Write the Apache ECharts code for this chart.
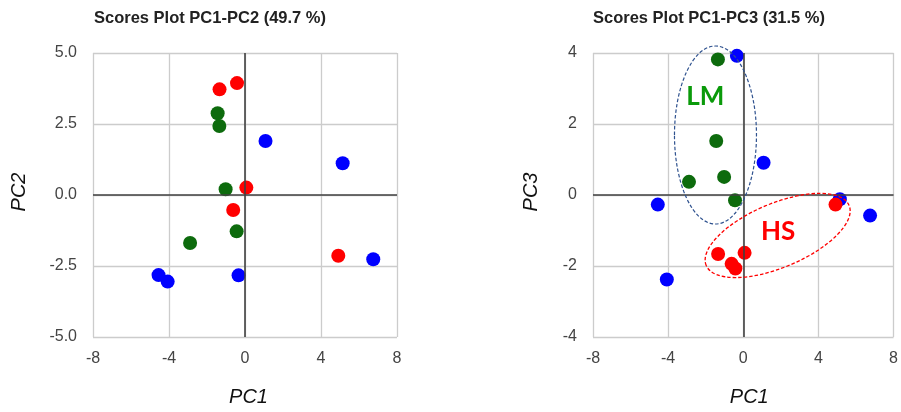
<!DOCTYPE html>
<html>
<head>
<meta charset="utf-8">
<script src="https://cdn.jsdelivr.net/npm/echarts@6/dist/echarts.min.js"></script>
<style>
html,body{margin:0;padding:0;background:#fff;}
#c{width:901px;height:412px;}
</style>
</head>
<body>
<div id="c"></div>
<script>
// ---- data ----
const titles = ['Scores Plot PC1-PC2 (49.7 %)', 'Scores Plot PC1-PC3 (31.5 %)'];
const axisNames = { left: ['PC1', 'PC2'], right: ['PC1', 'PC3'] };

const pc1Blue  = [1.08, 5.14, 6.75, -0.34, -4.55, -4.07];
const pc2Blue  = [1.90, 1.12, -2.26, -2.83, -2.82, -3.05];
const pc3Blue  = [0.91, -0.12, -0.58, 3.92, -0.27, -2.38];

const pc1Green = [-1.44, -1.35, -1.02, -0.44, -2.89];
const pc2Green = [2.88, 2.43, 0.20, -1.28, -1.69];
const pc3Green = [1.52, 3.82, 0.51, -0.15, 0.37];

const pc1Red   = [-1.34, -0.42, 0.07, -0.62, 4.91];
const pc2Red   = [3.72, 3.94, 0.26, -0.53, -2.14];
const pc3Red   = [-1.66, -2.07, -1.63, -1.94, -0.27];

const xTicks = [-8, -4, 0, 4, 8];
const y2Ticks = [-5.0, -2.5, 0.0, 2.5, 5.0];
const y3Ticks = [-4, -2, 0, 2, 4];

// annotation groups on the PC1-PC3 plot (data coordinates of centres)
const lmLabel = { text: 'LM', pc1: -2.02, pc3: 2.77 };
const hsLabel = { text: 'HS', pc1: 1.86, pc3: -1.03 };
const lmEllipseCenter = [-1.48, 1.69];
const hsEllipseCenter = [1.83, -1.14];

// ---- chart ----
const colors = { blue: '#0000ff', green: '#0d6b0d', red: '#ff0000' };
function pairs(xs, ys) { return xs.map((x, i) => [x, ys[i]]); }

const chart = echarts.init(document.getElementById('c'), null, { renderer: 'canvas' });

const tickFont = { fontFamily: 'Liberation Sans, Arial, sans-serif', fontSize: 16, color: '#444' };
const nameFont = { fontFamily: 'Liberation Sans, Arial, sans-serif', fontSize: 20, fontStyle: 'italic', color: '#111' };

function xAxis(gridIndex, name, padLeft) {
  return {
    type: 'value', gridIndex, min: xTicks[0], max: xTicks[xTicks.length - 1], interval: 4,
    name, nameLocation: 'middle', nameGap: 50,
    nameTextStyle: Object.assign({ padding: [0, 0, 0, padLeft] }, nameFont),
    axisLine: { show: false }, axisTick: { show: false },
    axisLabel: Object.assign({ margin: 14 }, tickFont),
    splitLine: { show: true, lineStyle: { color: '#cccccc', width: 1.3 } }
  };
}
function yAxis(gridIndex, name, ticks, interval, fmt, gap) {
  return {
    type: 'value', gridIndex, min: ticks[0], max: ticks[ticks.length - 1], interval,
    name, nameLocation: 'middle', nameGap: gap,
    nameTextStyle: Object.assign({ padding: [0, 0, 0, 6] }, nameFont),
    axisLine: { show: false }, axisTick: { show: false },
    axisLabel: Object.assign({ margin: 16, formatter: fmt }, tickFont),
    splitLine: { show: true, lineStyle: { color: '#cccccc', width: 1.3 } }
  };
}
function zeroLines(xi, yi) {
  return {
    type: 'scatter', xAxisIndex: xi, yAxisIndex: yi, data: [], z: 1, silent: true,
    markLine: {
      silent: true, symbol: 'none', label: { show: false },
      lineStyle: { color: '#404040', width: 1.6, type: 'solid' },
      data: [{ xAxis: 0 }, { yAxis: 0 }], animation: false
    }
  };
}
function dots(xi, yi, data, color) {
  return {
    type: 'scatter', xAxisIndex: xi, yAxisIndex: yi, data, z: 3,
    symbol: 'circle', symbolSize: 14, itemStyle: { color, opacity: 1 }
  };
}

const titleStyle = { fontFamily: 'Liberation Sans, Arial, sans-serif', fontSize: 16.5, fontWeight: 'bold', color: '#222' };
chart.setOption({
  animation: false,
  backgroundColor: '#ffffff',
  title: [
    { text: titles[0], left: 94, top: 10, padding: 0, textStyle: titleStyle },
    { text: titles[1], left: 593, top: 10, padding: 0, textStyle: titleStyle }
  ],
  grid: [
    { left: 93, top: 53, width: 304, height: 284 },
    { left: 593, top: 53, width: 304, height: 284 }
  ],
  xAxis: [ xAxis(0, axisNames.left[0], 7), xAxis(1, axisNames.right[0], 12) ],
  yAxis: [
    yAxis(0, axisNames.left[1], y2Ticks, 2.5, v => v.toFixed(1), 64),
    yAxis(1, axisNames.right[1], y3Ticks, 2, v => String(v), 52)
  ],
  series: [
    zeroLines(0, 0), zeroLines(1, 1),
    dots(0, 0, pairs(pc1Blue, pc2Blue), colors.blue),
    dots(0, 0, pairs(pc1Green, pc2Green), colors.green),
    dots(0, 0, pairs(pc1Red, pc2Red), colors.red),
    dots(1, 1, pairs(pc1Blue, pc3Blue), colors.blue),
    dots(1, 1, pairs(pc1Green, pc3Green), colors.green),
    dots(1, 1, pairs(pc1Red, pc3Red), colors.red)
  ]
});

// annotations placed via the chart's own scale
function px(p) { return chart.convertToPixel({ gridIndex: 1 }, p); }
const lmC = px(lmEllipseCenter), hsC = px(hsEllipseCenter);
const lmT = px([lmLabel.pc1, lmLabel.pc3]), hsT = px([hsLabel.pc1, hsLabel.pc3]);
const annFont = 'Lato, "Open Sans", sans-serif';
chart.setOption({
  graphic: [
    { type: 'ellipse', x: lmC[0], y: lmC[1], z: 10, silent: true,
      shape: { cx: 0, cy: 0, rx: 41, ry: 89 },
      style: { fill: 'none', stroke: '#2f528f', lineWidth: 1.2, lineDash: [3.5, 2] } },
    { type: 'ellipse', x: hsC[0], y: hsC[1], z: 10, silent: true, rotation: 22.8 * Math.PI / 180,
      shape: { cx: 0, cy: 0, rx: 77.5, ry: 32 },
      style: { fill: 'none', stroke: '#ff0000', lineWidth: 1.3, lineDash: [3.5, 2] } },
    { type: 'text', x: lmT[0], y: lmT[1], z: 11, silent: true,
      style: { text: lmLabel.text, fill: '#0a9a0a', font: 'bold 26px ' + annFont, align: 'center', verticalAlign: 'middle' } },
    { type: 'text', x: hsT[0], y: hsT[1], z: 11, silent: true,
      style: { text: hsLabel.text, fill: '#ff0000', font: 'bold 26px ' + annFont, align: 'center', verticalAlign: 'middle' } }
  ]
});
</script>
</body>
</html>
